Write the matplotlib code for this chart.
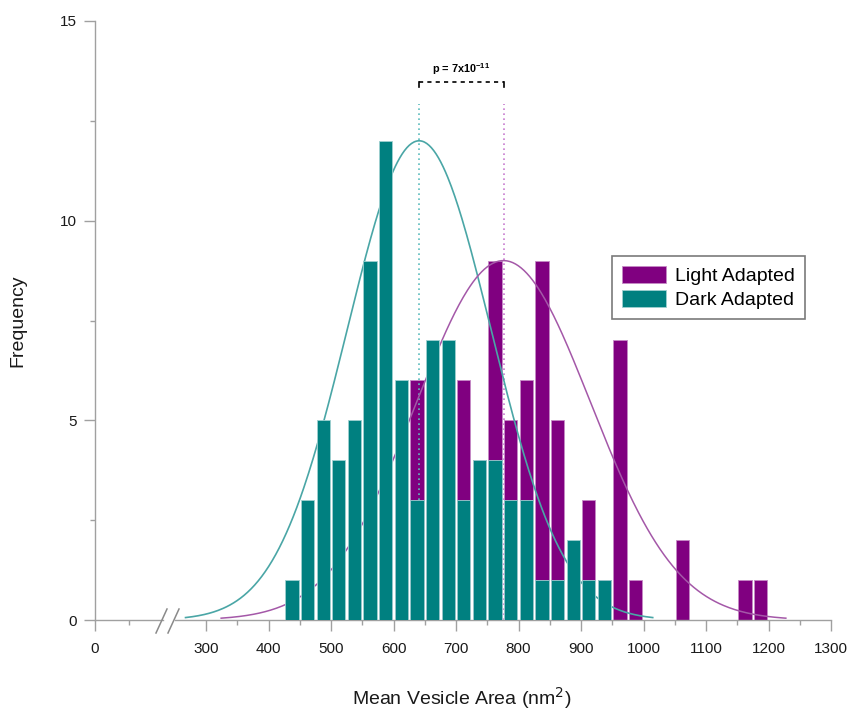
import numpy as np
import matplotlib
matplotlib.use("Agg")
import matplotlib.pyplot as plt
from matplotlib.lines import Line2D
from matplotlib.ticker import MultipleLocator, FixedLocator

plt.rcParams['font.family'] = ['Liberation Sans', 'DejaVu Sans']

# Histogram bins (left edge of each 25 nm^2 bin)
bin_start = [425, 450, 475, 500, 525, 550, 575, 600, 625, 650, 675, 700, 725,
             750, 775, 800, 825, 850, 875, 900, 925, 950, 975, 1000, 1025,
             1050, 1075, 1100, 1125, 1150, 1175]
bin_width = 25

# Frequencies per bin
dark_counts = [1, 3, 5, 4, 5, 9, 12, 6, 3, 7, 7, 3, 4, 4, 3, 3, 1, 1, 2, 1, 1,
               0, 0, 0, 0, 0, 0, 0, 0, 0, 0]
light_counts = [0, 0, 0, 0, 1, 0, 3, 5, 6, 3, 6, 6, 4, 9, 5, 6, 9, 5, 1, 3, 1,
                7, 1, 0, 0, 2, 0, 0, 0, 1, 1]

# Normal fits (mean, sd) of the two distributions
dark_mean, dark_sd = 641, 115
light_mean, light_sd = 776, 139
p_text = r'p = 7x10$^{\mathdefault{-11}}$'

series_labels = ['Light Adapted', 'Dark Adapted']
x_ticks = [300, 400, 500, 600, 700, 800, 900, 1000, 1100, 1200, 1300]

TEAL = '#008080'
PURPLE = '#800080'
GRID = '#a0a0a0'

W, H = 851, 722
fig = plt.figure(figsize=(W / 100, H / 100), dpi=100)


def fx(px):
    return px / W


def fy(py):
    return 1 - py / H


bottom, top = fy(620), fy(21)
ax_l = fig.add_axes([fx(95), bottom, fx(163) - fx(95), top - bottom])
ax_r = fig.add_axes([fx(174.75), bottom, fx(831) - fx(174.75), top - bottom],
                    sharey=ax_l)

for ax in (ax_l, ax_r):
    ax.set_facecolor('none')
    for s in ('top', 'right'):
        ax.spines[s].set_visible(False)
    for s in ('left', 'bottom'):
        ax.spines[s].set_color(GRID)
        ax.spines[s].set_linewidth(1.0)
    ax.tick_params(which='major', length=8, width=1.0, color=GRID,
                   labelsize=11, labelcolor='#1a1a1a', pad=5)
    ax.tick_params(which='minor', length=3.5, width=1.0, color=GRID)
    ax.tick_params(axis='x', which='major', pad=8)

ax_r.spines['left'].set_visible(False)
ax_r.tick_params(axis='y', which='both', left=False, labelleft=False)

# y axis
ax_l.set_ylim(0, 15)
ax_l.yaxis.set_major_locator(MultipleLocator(5))
ax_l.yaxis.set_minor_locator(MultipleLocator(2.5))
ax_l.set_ylabel('Frequency', fontsize=14, labelpad=24, color='#1a1a1a')

# left segment of the broken x axis
ax_l.set_xlim(0, 100)
ax_l.xaxis.set_major_locator(FixedLocator([0]))
ax_l.xaxis.set_minor_locator(FixedLocator([50]))

# right segment
ax_r.set_xlim(250, 1300)
ax_r.xaxis.set_major_locator(FixedLocator(x_ticks))
ax_r.xaxis.set_minor_locator(FixedLocator([t + 50 for t in x_ticks[:-1]]))

# bars: light adapted at the back, dark adapted in front
centers = np.array(bin_start) + bin_width / 2
bw = 21.3
light_bars = ax_r.bar(centers, light_counts, width=bw, color=PURPLE,
                      edgecolor='#c58ac5', linewidth=0.6, zorder=2)
dark_bars = ax_r.bar(centers, dark_counts, width=bw, color=TEAL,
                     edgecolor='#9fd0d0', linewidth=0.6, zorder=3)


# fitted normal curves scaled to the tallest bar
def normal_curve(mean, sd, peak):
    xs = np.linspace(mean - 3.25 * sd, mean + 3.25 * sd, 400)
    return xs, peak * np.exp(-0.5 * ((xs - mean) / sd) ** 2)


xd, yd = normal_curve(dark_mean, dark_sd, max(dark_counts))
xl, yl = normal_curve(light_mean, light_sd, max(light_counts))
ax_r.plot(xd, yd, color='#4aa6a6', lw=1.2, zorder=2.6)
ax_r.plot(xl, yl, color='#a458a8', lw=1.1, zorder=2.6)

# mean markers
ax_r.vlines(dark_mean, 0, 12.93, colors='#5cbcbc', linestyles=(0, (1, 2)),
            lw=1.2, zorder=2.5)
ax_r.vlines(light_mean, 0, 12.93, colors='#c77dd0', linestyles=(0, (1, 2)),
            lw=1.2, zorder=2.5)

# significance bracket
yb = 13.47
ax_r.plot([dark_mean, light_mean], [yb, yb], color='black', lw=1.2,
          ls=(0, (2.5, 2.5)), zorder=5)
ax_r.plot([dark_mean, dark_mean], [yb, yb - 0.12], color='black', lw=1.2)
ax_r.plot([light_mean, light_mean], [yb, yb - 0.12], color='black', lw=1.2)
ax_r.text((dark_mean + light_mean) / 2, yb + 0.14, p_text, ha='center',
          va='bottom', fontsize=7.8, fontweight='bold')

# axis break marks
for x0 in (156, 168):
    fig.add_artist(Line2D([fx(x0), fx(x0 + 11)], [fy(633), fy(609)],
                          transform=fig.transFigure, color='#8a8a8a', lw=1.1))

fig.text(fx(462), fy(705), r'Mean Vesicle Area (nm$^2$)', ha='center',
         va='baseline', fontsize=14, color='#1a1a1a')

leg = ax_r.legend([light_bars, dark_bars], series_labels, loc='upper left',
                  bbox_to_anchor=(fx(612), fy(256)),
                  bbox_transform=fig.transFigure, borderaxespad=0,
                  fancybox=False, framealpha=1, edgecolor='#7a7a7a',
                  fontsize=14, borderpad=0.5, handlelength=2.3,
                  handleheight=1.0, handletextpad=0.45, labelspacing=0.25)
leg.get_frame().set_linewidth(1.2)

fig.savefig('out.png', dpi=100, facecolor='white')
